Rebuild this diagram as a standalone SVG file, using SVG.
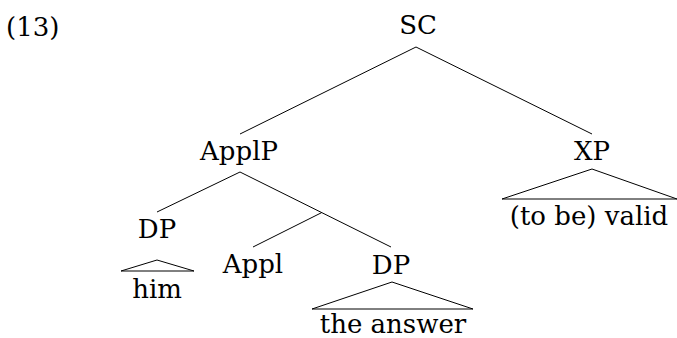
<svg xmlns="http://www.w3.org/2000/svg" width="677" height="338" viewBox="0 0 677 338">
  <style>
    text { font-family: "DejaVu Serif", "Liberation Serif", serif; font-size: 26px; fill: #000; text-anchor: middle; }
    .edge { stroke: #000; stroke-width: 1; fill: none; }
  </style>
  <rect width="677" height="338" fill="#fff"/>
  <text x="6" y="36" style="text-anchor:start">(13)</text>
  <g id="node-SC"><text x="418" y="34">SC</text></g>
  <g id="node-ApplP"><text x="239" y="160">ApplP</text></g>
  <g id="node-XP"><text x="592" y="160">XP</text></g>
  <g id="node-DP1"><text x="157" y="238">DP</text></g>
  <g id="node-him">
    <polygon class="edge" points="157,260 121,271 194,271"/>
    <text x="157" y="298">him</text>
  </g>
  <g id="node-Appl"><text x="253" y="273">Appl</text></g>
  <g id="node-DP2"><text x="391" y="274">DP</text></g>
  <g id="node-answer">
    <polygon class="edge" points="392,282 312,309 473,309"/>
    <text x="393" y="333">the answer</text>
  </g>
  <g id="node-valid">
    <polygon class="edge" points="592,169 502,199 677,199"/>
    <text x="589" y="225">(to be) valid</text>
  </g>
  <g id="connectors">
    <line class="edge" x1="416" y1="47" x2="240" y2="134"/>
    <line class="edge" x1="416" y1="47" x2="592" y2="134"/>
    <line class="edge" x1="240" y1="172" x2="157" y2="212"/>
    <line class="edge" x1="240" y1="172" x2="391" y2="247"/>
    <line class="edge" x1="321.7" y1="212.6" x2="253" y2="247"/>
  </g>
</svg>
